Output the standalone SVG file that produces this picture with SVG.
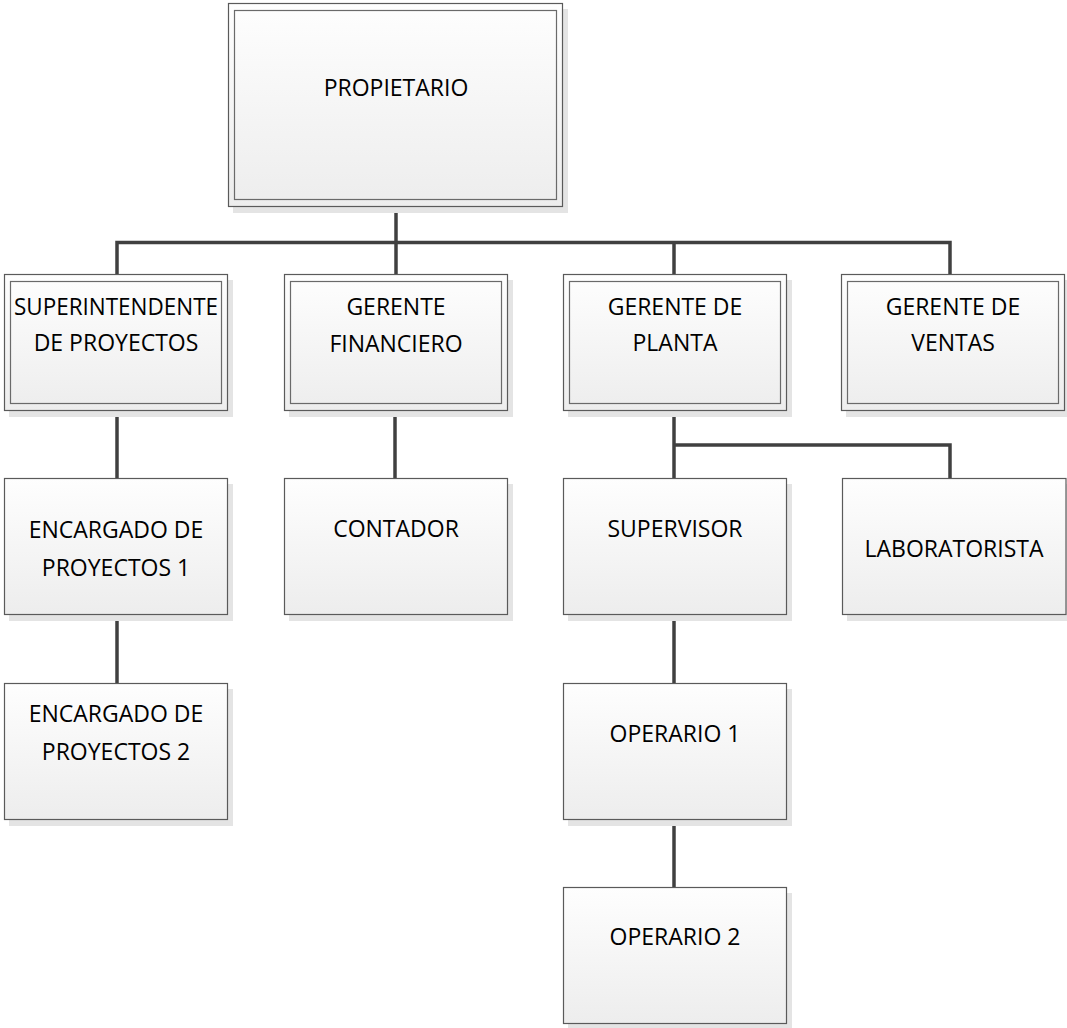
<svg xmlns="http://www.w3.org/2000/svg" width="1067" height="1028" viewBox="0 0 1067 1028">
  <defs>
    <linearGradient id="boxFill" x1="0" y1="0" x2="0" y2="1">
      <stop offset="0" stop-color="#fefefe"/>
      <stop offset="1" stop-color="#ededed"/>
    </linearGradient>
  </defs>
  <style>
    .shadow { fill: #e4e4e4; }
    .box { fill: url(#boxFill); stroke: #5a5a5a; stroke-width: 1.2; }
    .inner { fill: none; stroke: #6a6a6a; stroke-width: 1.2; }
    .label { font-family: "Open Sans", "Noto Sans", "Liberation Sans", sans-serif; font-size: 23px; fill: #000000; text-anchor: middle; }
    .link { fill: none; stroke: #404040; stroke-width: 3.5; stroke-linejoin: miter; }
  </style>
  <rect width="1067" height="1028" fill="#ffffff"/>

  <!-- connectors -->
  <g id="connectors">
    <path class="link" d="M396,207 V275"/>
    <path class="link" d="M117,275 V242.5 H950 V275"/>
    <path class="link" d="M674,242.5 V275"/>
    <path class="link" d="M117,411 V479"/>
    <path class="link" d="M117,615 V683"/>
    <path class="link" d="M395,411 V479"/>
    <path class="link" d="M674,411 V479"/>
    <path class="link" d="M674,445 H950 V479"/>
    <path class="link" d="M674,615 V683"/>
    <path class="link" d="M674,819 V887"/>
  </g>

  <!-- top level -->
  <g id="propietario">
    <rect class="shadow" x="233" y="9" width="335" height="204"/>
    <rect class="box" x="228.5" y="3.5" width="334" height="203"/>
    <rect class="inner" x="234.5" y="10.5" width="322" height="189"/>
    <text class="label" x="396" y="96">PROPIETARIO</text>
  </g>

  <!-- second level -->
  <g id="superintendente">
    <rect class="shadow" x="9" y="280" width="224" height="137"/>
    <rect class="box" x="4.5" y="274.5" width="223" height="136"/>
    <rect class="inner" x="10.5" y="281.5" width="211" height="122"/>
    <text class="label" x="116" y="315" textLength="204" lengthAdjust="spacingAndGlyphs">SUPERINTENDENTE</text>
    <text class="label" x="116" y="351">DE PROYECTOS</text>
  </g>
  <g id="gerente-financiero">
    <rect class="shadow" x="289" y="280" width="224" height="137"/>
    <rect class="box" x="284.5" y="274.5" width="223" height="136"/>
    <rect class="inner" x="290.5" y="281.5" width="211" height="122"/>
    <text class="label" x="396" y="315">GERENTE</text>
    <text class="label" x="396" y="352">FINANCIERO</text>
  </g>
  <g id="gerente-planta">
    <rect class="shadow" x="568" y="280" width="224" height="137"/>
    <rect class="box" x="563.5" y="274.5" width="223" height="136"/>
    <rect class="inner" x="569.5" y="281.5" width="211" height="122"/>
    <text class="label" x="675" y="315">GERENTE DE</text>
    <text class="label" x="675" y="351">PLANTA</text>
  </g>
  <g id="gerente-ventas">
    <rect class="shadow" x="846" y="280" width="224" height="137"/>
    <rect class="box" x="841.5" y="274.5" width="223" height="136"/>
    <rect class="inner" x="847.5" y="281.5" width="211" height="122"/>
    <text class="label" x="953" y="315">GERENTE DE</text>
    <text class="label" x="953" y="351">VENTAS</text>
  </g>

  <!-- third level -->
  <g id="encargado-1">
    <rect class="shadow" x="9" y="484" width="224" height="137"/>
    <rect class="box" x="4.5" y="478.5" width="223" height="136"/>
    <text class="label" x="116" y="538">ENCARGADO DE</text>
    <text class="label" x="116" y="576">PROYECTOS 1</text>
  </g>
  <g id="contador">
    <rect class="shadow" x="289" y="484" width="224" height="137"/>
    <rect class="box" x="284.5" y="478.5" width="223" height="136"/>
    <text class="label" x="396" y="537">CONTADOR</text>
  </g>
  <g id="supervisor">
    <rect class="shadow" x="568" y="484" width="224" height="137"/>
    <rect class="box" x="563.5" y="478.5" width="223" height="136"/>
    <text class="label" x="675" y="537">SUPERVISOR</text>
  </g>
  <g id="laboratorista">
    <rect class="shadow" x="847" y="484" width="224" height="137"/>
    <rect class="box" x="842.5" y="478.5" width="223.5" height="136"/>
    <text class="label" x="954" y="557">LABORATORISTA</text>
  </g>

  <!-- fourth level -->
  <g id="encargado-2">
    <rect class="shadow" x="9" y="689" width="224" height="137"/>
    <rect class="box" x="4.5" y="683.5" width="223" height="136"/>
    <text class="label" x="116" y="722">ENCARGADO DE</text>
    <text class="label" x="116" y="760">PROYECTOS 2</text>
  </g>
  <g id="operario-1">
    <rect class="shadow" x="568" y="689" width="224" height="137"/>
    <rect class="box" x="563.5" y="683.5" width="223" height="136"/>
    <text class="label" x="675" y="742">OPERARIO 1</text>
  </g>

  <!-- fifth level -->
  <g id="operario-2">
    <rect class="shadow" x="568" y="893" width="224" height="135"/>
    <rect class="box" x="563.5" y="887.5" width="223" height="136"/>
    <text class="label" x="675" y="945">OPERARIO 2</text>
  </g>
</svg>
